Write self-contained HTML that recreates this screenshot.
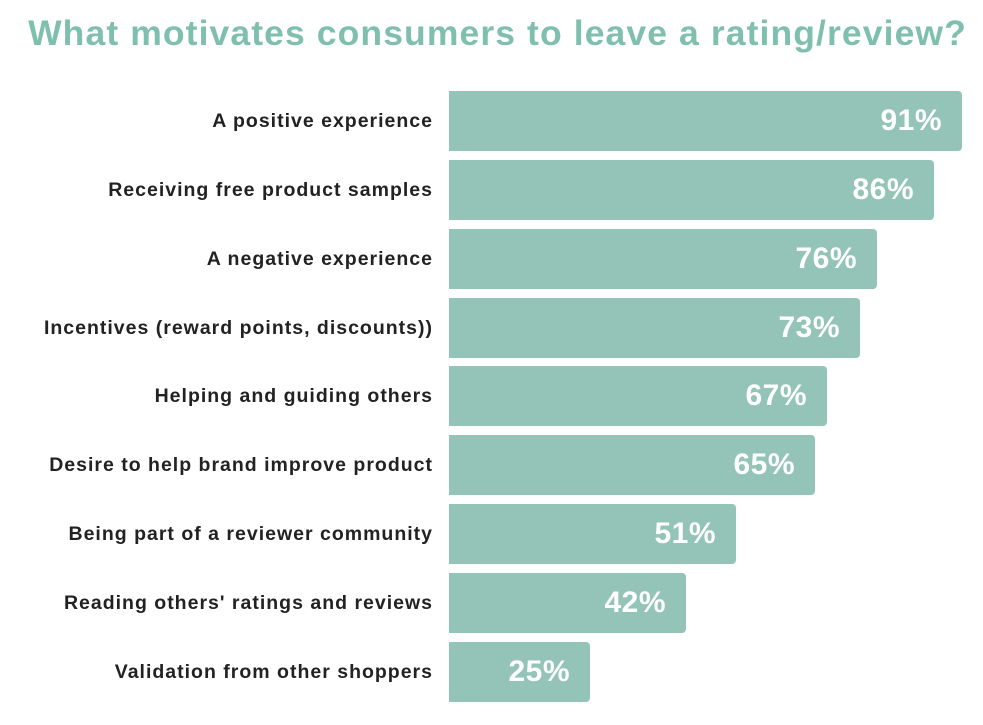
<!DOCTYPE html>
<html><head><style>
body{margin:0;width:983px;height:725px;background:#fff;font-family:"Liberation Sans",sans-serif;position:relative;overflow:hidden}
.t{position:absolute;left:0;width:995px;top:13px;text-align:center;color:#7fbfae;font-size:35.5px;font-weight:bold;letter-spacing:1.1px;white-space:nowrap}
.b{position:absolute;left:449px;height:60px;background:#93c4b7;border-radius:0 4px 4px 0;box-sizing:border-box;padding-right:20px;text-align:right;color:#fff;font-weight:bold;font-size:30px;line-height:60px;letter-spacing:0.5px}
.l{position:absolute;right:550px;height:60px;line-height:60px;font-size:19.5px;font-weight:bold;color:#222;white-space:nowrap;letter-spacing:1px}
</style></head><body>
<div class="t">What motivates consumers to leave a rating/review?</div>
<div class="l" style="top:91px">A positive experience</div><div class="b" style="top:91px;width:513px">91%</div>
<div class="l" style="top:160px">Receiving free product samples</div><div class="b" style="top:160px;width:485px">86%</div>
<div class="l" style="top:229px">A negative experience</div><div class="b" style="top:229px;width:428px">76%</div>
<div class="l" style="top:298px">Incentives (reward points, discounts))</div><div class="b" style="top:298px;width:411px">73%</div>
<div class="l" style="top:366px">Helping and guiding others</div><div class="b" style="top:366px;width:378px">67%</div>
<div class="l" style="top:435px">Desire to help brand improve product</div><div class="b" style="top:435px;width:366px">65%</div>
<div class="l" style="top:504px">Being part of a reviewer community</div><div class="b" style="top:504px;width:287px">51%</div>
<div class="l" style="top:573px">Reading others' ratings and reviews</div><div class="b" style="top:573px;width:237px">42%</div>
<div class="l" style="top:642px">Validation from other shoppers</div><div class="b" style="top:642px;width:141px">25%</div>
</body></html>
